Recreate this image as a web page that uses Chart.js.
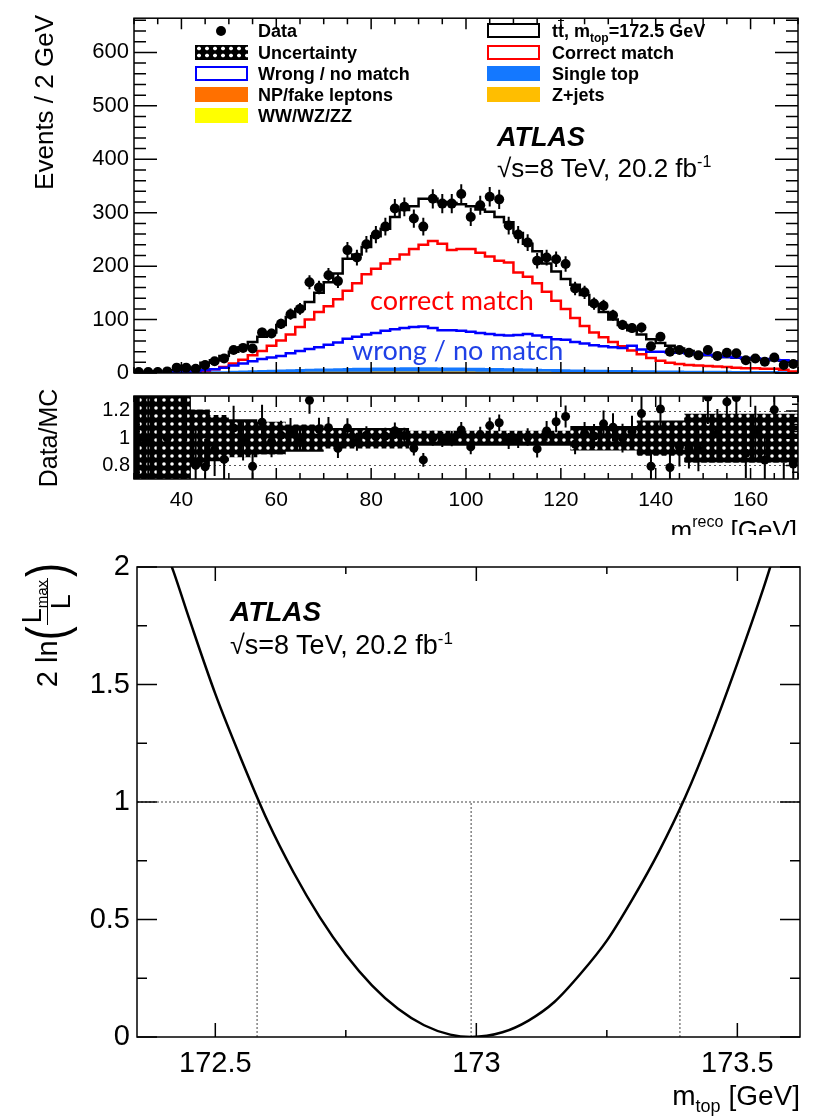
<!DOCTYPE html>
<html>
<head>
<meta charset="utf-8">
<title>ATLAS top mass - template fit</title>
<script src="https://cdn.jsdelivr.net/npm/chart.js@4.4.1/dist/chart.umd.min.js"></script>
<style>
    body { margin: 0; width: 814px; height: 1118px; position: relative; overflow: hidden; background: #fff; color: #000; font-family: "Liberation Sans", Arial, sans-serif; }
    canvas { position: absolute; left: 0; }
    .txt { position: absolute; white-space: nowrap; line-height: 1; }
    .leg { position: absolute; white-space: nowrap; font-weight: bold; font-size: 18px; line-height: 20px; }
    .sw { position: absolute; width: 53px; height: 15px; box-sizing: border-box; }
    .rot { position: absolute; transform-origin: 0 0; transform: rotate(-90deg); white-space: nowrap; line-height: 1; }
    .dots { background-color: #000; background-image: radial-gradient(circle, #fff 0, #fff 1.5px, transparent 2.2px); background-size: 8px 7px; }
    sub, sup { line-height: 0; }
    .frac { display: inline-flex; flex-direction: column; align-items: center; font-size: 27px; margin: 0 1px; }
    .frac .num { border-bottom: 1.5px solid #000; padding: 0 2px 1px; }
    .frac sub { font-size: 15px; }
    .paren { font-size: 42px; display: inline-block; transform: scaleY(1.3); }
</style>
</head>
<body>
<canvas id="mainChart" width="814" height="400" style="top:0"></canvas>
<canvas id="ratioChart" width="814" height="140" style="top:380px"></canvas>
<canvas id="llChart" width="814" height="578" style="top:540px"></canvas>

<!-- legend, left column -->
<div style="position:absolute;left:216px;top:26px;width:10px;height:10px;border-radius:50%;background:#000"></div>
<div class="sw dots" style="left:195px;top:45px"></div>
<div class="sw" style="left:195px;top:66px;border:2px solid #0000ff"></div>
<div class="sw" style="left:195px;top:87px;background:#ff7000"></div>
<div class="sw" style="left:195px;top:108px;background:#ffff00"></div>
<div class="leg" style="left:258px;top:21px">Data</div>
<div class="leg" style="left:258px;top:43px">Uncertainty</div>
<div class="leg" style="left:258px;top:64px">Wrong / no match</div>
<div class="leg" style="left:258px;top:85px">NP/fake leptons</div>
<div class="leg" style="left:258px;top:106px">WW/WZ/ZZ</div>
<!-- legend, right column -->
<div class="sw" style="left:487px;top:23px;border:2px solid #000"></div>
<div class="sw" style="left:487px;top:45px;border:2px solid #ff0000"></div>
<div class="sw" style="left:487px;top:66px;background:#1478ff"></div>
<div class="sw" style="left:487px;top:87px;background:#ffbe00"></div>
<div class="leg" style="left:552px;top:21px">t<span style="text-decoration:overline">t</span>, m<sub style="font-size:12px">top</sub>=172.5 GeV</div>
<div class="leg" style="left:552px;top:43px">Correct match</div>
<div class="leg" style="left:552px;top:64px">Single top</div>
<div class="leg" style="left:552px;top:85px">Z+jets</div>

<!-- labels on the top panel -->
<div class="txt" style="left:497px;top:124px;font-size:27px;font-weight:bold;font-style:italic">ATLAS</div>
<div class="txt" style="left:497px;top:155px;font-size:26px">√s=8 TeV, 20.2 fb<sup style="font-size:16px">-1</sup></div>
<div class="txt" style="left:370px;top:286px;font-size:27px;font-family:Lato, sans-serif;color:#ff0000">correct match</div>
<div class="txt" style="left:352px;top:336px;font-size:27px;font-family:Lato, sans-serif;color:#1f40e6">wrong / no match</div>

<div class="rot" style="left:31px;top:315px;width:300px;text-align:right;font-size:26px">Events / 2 GeV</div>
<div class="rot" style="left:36px;top:538px;width:200px;text-align:center;font-size:25px">Data/MC</div>

<div style="position:absolute;left:0;top:0;width:814px;height:535px;overflow:hidden">
    <div class="txt" style="right:17px;top:517px;font-size:26px">m<span style="display:inline-flex;flex-direction:column;font-size:16px;line-height:1;vertical-align:top;margin-top:-3px"><span>reco</span><span style="margin-top:8px">t</span></span> [GeV]</div>
</div>

<!-- labels on the likelihood panel -->
<div class="txt" style="left:230px;top:598px;font-size:28px;font-weight:bold;font-style:italic">ATLAS</div>
<div class="txt" style="left:230px;top:632px;font-size:27px">√s=8 TeV, 20.2 fb<sup style="font-size:17px">-1</sup></div>
<div class="rot" style="left:18px;top:713px;width:150px;height:58px;display:flex;align-items:center;justify-content:flex-end;font-size:29px">
    <span>2 ln</span><span class="paren">(</span><span class="frac"><span class="num">L<sub>max</sub></span><span>L</span></span><span class="paren">)</span>
</div>
<div class="txt" style="right:14px;top:1082px;font-size:28px">m<sub style="font-size:18px">top</sub> [GeV]</div>

<script>
// Reconstructed top-quark mass, 2 GeV bins (bin centres)
const massBins = [
    31, 33, 35, 37, 39, 41, 43, 45, 47, 49,
    51, 53, 55, 57, 59, 61, 63, 65, 67, 69,
    71, 73, 75, 77, 79, 81, 83, 85, 87, 89,
    91, 93, 95, 97, 99, 101, 103, 105, 107, 109,
    111, 113, 115, 117, 119, 121, 123, 125, 127, 129,
    131, 133, 135, 137, 139, 141, 143, 145, 147, 149,
    151, 153, 155, 157, 159, 161, 163, 165, 167, 169
];
const binWidth = 2;

// Observed events per bin
const dataCounts = [
    2, 2, 2, 3, 10, 10, 8, 15, 22, 27,
    43, 47, 46, 76, 74, 92, 110, 120, 170, 160,
    183, 172, 230, 216, 241, 259, 274, 308, 311, 289,
    274, 326, 317, 317, 335, 292, 314, 330, 325, 276,
    259, 244, 210, 216, 213, 204, 158, 151, 130, 126,
    108, 90, 84, 85, 50, 68, 40, 43, 38, 33,
    43, 32, 38, 37, 24, 27, 21, 29, 15, 17
];

// Total prediction (ttbar, mtop = 172.5 GeV, plus backgrounds)
const mcTotal = [
    2, 2, 3, 3, 5, 7, 10, 19, 24, 32,
    40, 48, 58, 68, 76, 90, 105, 120, 133, 150,
    170, 186, 214, 222, 236, 256, 270, 292, 305, 312,
    326, 326, 320, 318, 316, 312, 306, 302, 292, 282,
    262, 242, 228, 205, 190, 176, 165, 146, 128, 114,
    100, 90, 80, 72, 63, 56, 51, 46, 41, 36,
    33, 31, 30, 28.5, 27, 26, 25, 24, 23, 21
];

const correctMatch = [
    0.3, 0.4, 0.6, 0.8, 1.2, 1.8, 2.5, 4, 7, 11,
    18, 25, 33, 41, 51, 61, 72, 86, 100, 114,
    125, 138, 154, 168, 185, 195, 205, 213, 222, 232,
    240, 247, 242, 230, 232, 232, 225, 218, 210, 207,
    188, 180, 168, 152, 135, 120, 103, 88, 76, 67,
    58, 50, 42, 35, 28, 23, 19, 17, 15, 14,
    13, 12, 11, 10, 9, 9, 8, 8, 6, 3
];

const wrongMatch = [
    0.2, 0.3, 0.5, 0.8, 1.2, 2, 3, 5, 7, 10,
    14, 18, 22, 26, 29, 32, 37, 41, 45, 48,
    53, 57, 64, 68, 72, 75, 79, 82, 84, 86,
    87, 84, 80, 80, 79, 77, 75, 73, 71, 70,
    71, 73, 70, 67, 63, 62, 58, 55, 52, 50,
    48, 47, 51, 44, 40, 40, 39, 38, 37, 35,
    34, 32, 30, 29, 28, 27, 26, 25, 24, 22
];

// Small backgrounds (stacked at the bottom)
const singleTop = [
    0.5, 0.5, 0.6, 0.7, 0.9, 1.1, 1.3, 1.6, 1.9, 2.2,
    2.6, 3.0, 3.4, 3.8, 4.2, 4.6, 5.0, 5.4, 5.8, 6.1,
    6.4, 6.7, 7.0, 7.2, 7.4, 7.6, 7.8, 7.9, 8.0, 8.0,
    8.0, 7.9, 7.8, 7.7, 7.6, 7.4, 7.2, 7.0, 6.8, 6.6,
    6.3, 6.0, 5.8, 5.5, 5.3, 5.0, 4.8, 4.6, 4.4, 4.2,
    4.0, 3.9, 3.8, 3.6, 3.5, 3.4, 3.3, 3.2, 3.1, 3.0,
    2.9, 2.8, 2.8, 2.7, 2.6, 2.6, 2.5, 2.5, 2.4, 2.4
];
const zJets = [
    0.3, 0.3, 0.4, 0.4, 0.5, 0.5, 0.6, 0.6, 0.7, 0.7,
    0.8, 0.8, 0.9, 0.9, 1.0, 1.0, 1.1, 1.1, 1.2, 1.2,
    1.2, 1.3, 1.3, 1.3, 1.4, 1.4, 1.4, 1.4, 1.5, 1.5,
    1.5, 1.5, 1.5, 1.5, 1.4, 1.4, 1.4, 1.4, 1.3, 1.3,
    1.3, 1.2, 1.2, 1.2, 1.1, 1.1, 1.1, 1.0, 1.0, 1.0,
    0.9, 0.9, 0.9, 0.9, 0.8, 0.8, 0.8, 0.8, 0.7, 0.7,
    0.7, 0.7, 0.7, 0.6, 0.6, 0.6, 0.6, 0.6, 0.5, 0.5
];
const fakeLeptons = [
    0.2, 0.2, 0.3, 0.3, 0.3, 0.4, 0.4, 0.4, 0.5, 0.5,
    0.5, 0.6, 0.6, 0.6, 0.7, 0.7, 0.7, 0.8, 0.8, 0.8,
    0.8, 0.9, 0.9, 0.9, 0.9, 1.0, 1.0, 1.0, 1.0, 1.0,
    1.0, 1.0, 1.0, 1.0, 1.0, 1.0, 0.9, 0.9, 0.9, 0.9,
    0.9, 0.8, 0.8, 0.8, 0.8, 0.7, 0.7, 0.7, 0.7, 0.7,
    0.6, 0.6, 0.6, 0.6, 0.6, 0.5, 0.5, 0.5, 0.5, 0.5,
    0.5, 0.4, 0.4, 0.4, 0.4, 0.4, 0.4, 0.4, 0.3, 0.3
];
const diboson = [
    0.1, 0.1, 0.1, 0.1, 0.1, 0.1, 0.1, 0.1, 0.1, 0.1,
    0.1, 0.1, 0.1, 0.1, 0.2, 0.2, 0.2, 0.2, 0.2, 0.2,
    0.2, 0.2, 0.2, 0.2, 0.2, 0.2, 0.2, 0.2, 0.2, 0.2,
    0.2, 0.2, 0.2, 0.2, 0.2, 0.2, 0.2, 0.2, 0.2, 0.2,
    0.2, 0.2, 0.2, 0.2, 0.2, 0.1, 0.1, 0.1, 0.1, 0.1,
    0.1, 0.1, 0.1, 0.1, 0.1, 0.1, 0.1, 0.1, 0.1, 0.1,
    0.1, 0.1, 0.1, 0.1, 0.1, 0.1, 0.1, 0.1, 0.1, 0.1
];

// Relative size of the uncertainty band in the ratio panel
const ratioUnc = [
    0.5, 0.5, 0.5, 0.5, 0.5, 0.5, 0.21, 0.21, 0.17, 0.17,
    0.14, 0.14, 0.14, 0.12, 0.12, 0.12, 0.10, 0.10, 0.10, 0.10,
    0.075, 0.075, 0.075, 0.075, 0.075, 0.075, 0.075, 0.075, 0.075, 0.055,
    0.055, 0.055, 0.055, 0.055, 0.055, 0.055, 0.055, 0.055, 0.055, 0.055,
    0.055, 0.055, 0.055, 0.055, 0.055, 0.055, 0.09, 0.09, 0.09, 0.09,
    0.09, 0.09, 0.09, 0.13, 0.13, 0.13, 0.13, 0.13, 0.18, 0.18,
    0.18, 0.18, 0.18, 0.18, 0.18, 0.18, 0.18, 0.18, 0.18, 0.18
];

// Likelihood scan, 2 ln(Lmax/L) vs mtop
const llMass = [
    172.40, 172.42, 172.45, 172.50, 172.55, 172.60, 172.65, 172.70, 172.75, 172.80,
    172.85, 172.90, 172.95, 172.99, 173.05, 173.10, 173.15, 173.20, 173.25, 173.30,
    173.35, 173.40, 173.45, 173.50, 173.55, 173.58
];
const llValues = [
    2.10, 1.98, 1.78, 1.46, 1.18, 0.92, 0.70, 0.51, 0.35, 0.22,
    0.12, 0.05, 0.01, 0.00, 0.02, 0.07, 0.15, 0.27, 0.41, 0.59,
    0.79, 1.02, 1.29, 1.59, 1.91, 2.12
];
const bestMass = 172.99;
const intervalEdges = [172.58, 173.39];
const oneSigmaLevel = 1;

// Tick labels
const mainYTicks = [0, 100, 200, 300, 400, 500, 600];
const massTicks = [40, 60, 80, 100, 120, 140, 160];
const ratioTicks = [0.8, 1, 1.2];
const llXTicks = [172.5, 173, 173.5];
const llYTicks = [0, 0.5, 1, 1.5, 2];

const FONT = '"Liberation Sans", Arial, sans-serif';

// Helpers
const steps = (from, to, step) => {
    const out = [];
    for (let v = from; v <= to + 1e-9; v += step) out.push(Math.round(v * 1000) / 1000);
    return out;
};

const toSteps = (vals) => {
    const pts = vals.map((v, i) => ({ x: massBins[i] - binWidth / 2, y: v }));
    pts.push({ x: massBins[massBins.length - 1] + binWidth / 2, y: vals[vals.length - 1] });
    return pts;
};

const fixedTicks = (vals) => (scale) => { scale.ticks = vals.map(v => ({ value: v })); };

// ROOT-style frame with inward ticks on all four sides
const makeFrame = (cfg) => ({
    id: 'rootFrame',
    beforeDatasetsDraw(chart) {
        if (!cfg.refLines) return;
        const { ctx, chartArea: a, scales: { y } } = chart;
        ctx.save();
        ctx.strokeStyle = '#555';
        ctx.lineWidth = 1;
        ctx.setLineDash([2, 3]);
        ctx.beginPath();
        cfg.refLines.forEach(v => {
            const py = Math.round(y.getPixelForValue(v)) + 0.5;
            ctx.moveTo(a.left, py);
            ctx.lineTo(a.right, py);
        });
        ctx.stroke();
        ctx.restore();
    },
    afterDraw(chart) {
        const { ctx, chartArea: a, scales: { x, y } } = chart;
        ctx.save();
        ctx.strokeStyle = '#000';
        ctx.lineWidth = 1.5;
        ctx.beginPath();
        const xTicks = (vals, len) => vals.forEach(v => {
            const px = x.getPixelForValue(v);
            ctx.moveTo(px, a.bottom);
            ctx.lineTo(px, a.bottom - len);
            ctx.moveTo(px, a.top);
            ctx.lineTo(px, a.top + len);
        });
        const yTicks = (vals, len) => vals.forEach(v => {
            const py = y.getPixelForValue(v);
            ctx.moveTo(a.left, py);
            ctx.lineTo(a.left + len, py);
            ctx.moveTo(a.right, py);
            ctx.lineTo(a.right - len, py);
        });
        xTicks(cfg.xMajor, cfg.xMajorLen);
        xTicks(cfg.xMinor, cfg.xMinorLen);
        yTicks(cfg.yMajor, cfg.yMajorLen);
        yTicks(cfg.yMinor, cfg.yMinorLen);
        ctx.stroke();
        ctx.strokeRect(a.left, a.top, a.right - a.left, a.bottom - a.top);
        ctx.restore();
    }
});

// Vertical error bars read from dataset.errLow / dataset.errHigh
const errorBars = {
    id: 'errorBars',
    afterDatasetsDraw(chart) {
        const { ctx, chartArea: a, scales: { x, y } } = chart;
        ctx.save();
        ctx.beginPath();
        ctx.rect(a.left, a.top, a.right - a.left, a.bottom - a.top);
        ctx.clip();
        ctx.strokeStyle = '#000';
        ctx.lineWidth = 2;
        ctx.beginPath();
        chart.data.datasets.forEach(ds => {
            if (!ds.errLow) return;
            ds.data.forEach((p, i) => {
                const px = x.getPixelForValue(p.x);
                ctx.moveTo(px, y.getPixelForValue(ds.errLow[i]));
                ctx.lineTo(px, y.getPixelForValue(ds.errHigh[i]));
            });
        });
        ctx.stroke();
        ctx.restore();
    }
};

const baseOptions = () => ({
    responsive: false,
    animation: false,
    events: [],
    plugins: { legend: { display: false }, tooltip: { enabled: false } },
    elements: { point: { radius: 0 } }
});

const hiddenGrid = { grid: { display: false, drawTicks: false }, border: { display: false } };

// Main distribution
const buildMainChart = () => {
    let running = massBins.map(() => 0);
    const [dibStack, fakeStack, zStack, stStack] = [diboson, fakeLeptons, zJets, singleTop]
        .map(vals => (running = running.map((r, i) => r + vals[i])));

    const fillLayer = (vals, color, order) => ({
        data: toSteps(vals), stepped: true, fill: 'origin',
        backgroundColor: color, borderWidth: 0, order
    });
    const stepLine = (vals, color, order) => ({
        data: toSteps(vals), stepped: true, fill: false,
        borderColor: color, borderWidth: 2.5, order
    });

    const opts = baseOptions();
    opts.layout = { padding: { top: 10, right: 16, left: 0, bottom: 0 } };
    opts.scales = {
        x: {
            type: 'linear', min: 30, max: 170, ...hiddenGrid,
            ticks: { display: false },
            afterFit: s => { s.height = 27; }
        },
        y: {
            min: 0, max: 664, ...hiddenGrid,
            afterBuildTicks: fixedTicks(mainYTicks),
            ticks: { color: '#000', padding: 5, font: { family: FONT, size: 22 }, callback: v => String(v) },
            afterFit: s => { s.width = 134; }
        }
    };

    new Chart(document.getElementById('mainChart'), {
        type: 'line',
        data: {
            datasets: [
                fillLayer(stStack, '#1478ff', 13),
                fillLayer(zStack, '#ffbe00', 12),
                fillLayer(fakeStack, '#ff7000', 11),
                fillLayer(dibStack, '#ffff00', 10),
                stepLine(mcTotal, '#000000', 5),
                stepLine(correctMatch, '#ff0000', 4),
                stepLine(wrongMatch, '#0000ff', 3),
                {
                    data: massBins.map((m, i) => ({ x: m, y: dataCounts[i] })),
                    showLine: false, pointRadius: 5, pointBackgroundColor: '#000', pointBorderWidth: 0,
                    errLow: dataCounts.map(v => v - Math.sqrt(v)),
                    errHigh: dataCounts.map(v => v + Math.sqrt(v)),
                    order: 1
                }
            ]
        },
        options: opts,
        plugins: [makeFrame({
            xMajor: massTicks, xMajorLen: 11,
            xMinor: steps(30, 170, 5).filter(v => !massTicks.includes(v)), xMinorLen: 6,
            yMajor: mainYTicks, yMajorLen: 23,
            yMinor: steps(0, 660, 20).filter(v => !mainYTicks.includes(v)), yMinorLen: 12
        }), errorBars]
    });
};

// Data / MC ratio
const buildRatioChart = () => {
    const canvas = document.getElementById('ratioChart');
    const tile = document.createElement('canvas');
    tile.width = 8;
    tile.height = 8;
    const t = tile.getContext('2d');
    t.fillStyle = '#000';
    t.fillRect(0, 0, 8, 8);
    t.fillStyle = '#fff';
    t.beginPath();
    t.arc(4, 4, 1.8, 0, Math.PI * 2);
    t.fill();
    const dotPattern = canvas.getContext('2d').createPattern(tile, 'repeat');

    const ratio = dataCounts.map((d, i) => d / mcTotal[i]);
    const ratioErr = dataCounts.map((d, i) => Math.sqrt(d) / mcTotal[i]);

    const opts = baseOptions();
    opts.layout = { padding: { top: 13, right: 16, left: 0, bottom: 0 } };
    opts.scales = {
        x: {
            type: 'linear', min: 30, max: 170, ...hiddenGrid,
            afterBuildTicks: fixedTicks(massTicks),
            ticks: { color: '#000', padding: 9, maxRotation: 0, font: { family: FONT, size: 21 }, callback: v => String(v) },
            afterFit: s => { s.height = 41; }
        },
        y: {
            min: 0.7, max: 1.31, ...hiddenGrid,
            afterBuildTicks: fixedTicks(ratioTicks),
            ticks: { color: '#000', padding: 4, font: { family: FONT, size: 20 }, callback: v => String(v) },
            afterFit: s => { s.width = 134; }
        }
    };

    new Chart(canvas, {
        type: 'line',
        data: {
            datasets: [
                {
                    data: toSteps(ratioUnc.map(u => 1 + u)), stepped: true, fill: '+1',
                    backgroundColor: dotPattern, borderWidth: 0, order: 5
                },
                {
                    data: toSteps(ratioUnc.map(u => 1 - u)), stepped: true, fill: false,
                    borderWidth: 0, order: 6
                },
                {
                    data: massBins.map((m, i) => ({ x: m, y: ratio[i] })),
                    showLine: false, pointRadius: 4.5, pointBackgroundColor: '#000', pointBorderWidth: 0,
                    errLow: ratio.map((r, i) => r - ratioErr[i]),
                    errHigh: ratio.map((r, i) => r + ratioErr[i]),
                    order: 1
                }
            ]
        },
        options: opts,
        plugins: [makeFrame({
            refLines: ratioTicks,
            xMajor: massTicks, xMajorLen: 11,
            xMinor: steps(30, 170, 5).filter(v => !massTicks.includes(v)), xMinorLen: 6,
            yMajor: ratioTicks, yMajorLen: 12,
            yMinor: steps(0.75, 1.3, 0.05).filter(v => !ratioTicks.includes(v)), yMinorLen: 6
        }), errorBars]
    });
};

// Likelihood scan
const buildLikelihoodChart = () => {
    const dotted = (pts) => ({
        data: pts, borderColor: '#444', borderWidth: 1, borderDash: [2, 2], fill: false, order: 5
    });

    const opts = baseOptions();
    opts.layout = { padding: { top: 27, right: 14, left: 0, bottom: 0 } };
    opts.scales = {
        x: {
            type: 'linear', min: 172.35, max: 173.62, ...hiddenGrid,
            afterBuildTicks: fixedTicks(llXTicks),
            ticks: { color: '#000', padding: 10, maxRotation: 0, font: { family: FONT, size: 29 }, callback: v => String(v) },
            afterFit: s => { s.height = 81; }
        },
        y: {
            min: 0, max: 2, ...hiddenGrid,
            afterBuildTicks: fixedTicks(llYTicks),
            ticks: { color: '#000', padding: 7, font: { family: FONT, size: 29 }, callback: v => String(v) },
            afterFit: s => { s.width = 137; }
        }
    };

    new Chart(document.getElementById('llChart'), {
        type: 'line',
        data: {
            datasets: [
                dotted([{ x: 172.35, y: oneSigmaLevel }, { x: 173.62, y: oneSigmaLevel }]),
                ...[intervalEdges[0], bestMass, intervalEdges[1]].map(m => dotted([{ x: m, y: 0 }, { x: m, y: oneSigmaLevel }])),
                {
                    data: llMass.map((m, i) => ({ x: m, y: llValues[i] })),
                    borderColor: '#000', borderWidth: 2.5, fill: false,
                    cubicInterpolationMode: 'monotone', order: 1
                }
            ]
        },
        options: opts,
        plugins: [makeFrame({
            xMajor: llXTicks, xMajorLen: 14,
            xMinor: [172.75, 173.25], xMinorLen: 7,
            yMajor: llYTicks, yMajorLen: 20,
            yMinor: [0.25, 0.75, 1.25, 1.75], yMinorLen: 10
        })]
    });
};

document.addEventListener('DOMContentLoaded', () => {
    buildMainChart();
    buildRatioChart();
    buildLikelihoodChart();
});
</script>
</body>
</html>
